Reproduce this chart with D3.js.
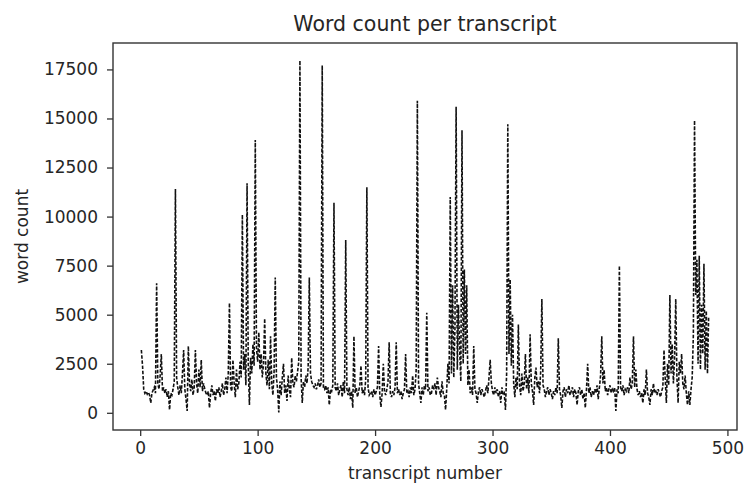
<!DOCTYPE html>
<html><head><meta charset="utf-8">
<script src="https://cdn.jsdelivr.net/npm/d3@7"></script>
<style>
body{margin:0;background:#fff;}
text{font-family:"DejaVu Sans",sans-serif;}
</style>
</head><body>
<svg id="chart" width="744" height="487"></svg>
<script>
// Word count per transcript (transcript numbers 1..N)
const wordCounts = [
3200,2400,1200,1000,1100,950,1050,900,500,1000,1150,1300,1000,6600,1500,1200,1900,3000,1100,1300,
1000,1200,800,1100,150,1000,900,1200,1600,11400,1800,1300,900,1400,1000,2000,3200,1200,700,90,
3400,1500,1100,1700,900,1300,3200,1500,1000,2200,1300,2700,1100,1500,1200,1000,900,1100,250,1000,
1400,900,1100,600,1200,1000,1300,800,1100,1500,900,1200,1800,1000,2000,5600,1300,1100,2700,1500,
800,2200,1200,1500,2600,1800,10100,2200,3000,1400,11700,2500,400,2800,2000,3500,2400,13900,3300,2600,
4100,2200,3000,1800,2500,4800,2000,1400,2700,1200,3900,1500,900,2100,6900,1800,1200,20,1600,900,
1800,2500,1000,1400,600,1900,1200,800,2800,1500,1300,1900,1600,2100,2600,17950,1800,500,1600,1300,
1900,1500,2300,6900,2000,1600,1400,1300,1500,1200,1400,1700,1300,1500,17700,1300,1200,1400,1000,1300,
400,1200,1100,1400,10700,1300,1100,1500,900,1200,1400,800,1600,1000,8800,1200,900,1300,700,1100,
250,3900,1000,1300,800,1100,1400,2400,1000,1200,900,1700,11500,1300,900,1000,1100,800,1200,900,
1100,1300,3400,900,300,1000,2500,1100,900,1200,1600,3600,1000,800,1100,900,1300,3600,1000,1200,
900,1100,700,1000,1200,3000,1000,1100,800,1300,1000,1900,900,1200,2200,15900,1500,1000,500,1300,
900,1400,1200,5100,1100,1300,900,1000,1400,1200,1500,900,1800,1300,1100,800,1600,1000,900,150,
1200,2500,1500,11000,2000,6500,1800,4300,15600,2200,5500,3200,1600,14400,2500,7300,3000,6500,1400,2200,
1000,1300,900,3400,1200,1000,500,1100,1300,900,1200,1000,800,1100,1400,1000,1800,2700,1500,1100,
900,1300,1000,1200,800,1100,500,1300,900,1000,150,2000,14700,3000,6800,2400,5000,1500,800,1800,
1200,4500,1400,900,2000,1100,1500,3000,1200,1800,1000,4000,1500,1100,400,1800,2300,1300,1600,1000,
2100,5800,1400,1200,800,1100,1300,900,1200,1000,700,1100,900,1300,1000,3800,1200,900,250,1100,
1300,800,1200,1000,1400,900,1100,1300,800,1200,1000,400,1100,1300,900,1200,700,1000,250,1200,
2500,1000,1300,800,1100,900,1200,1000,1400,700,1300,1900,3900,1500,2200,1100,1300,900,1200,1400,
1000,1200,1100,1300,100,1200,1000,7500,1300,1100,1400,900,1200,1100,1300,1000,1800,1200,1500,3900,
1300,2200,1200,900,1100,800,1000,500,1200,900,2200,1000,800,400,1200,900,1500,1000,1100,900,
1200,1000,800,1100,1300,3200,1800,500,2500,1400,6000,2000,3500,1500,2800,5800,1800,500,2600,2000,
3000,1500,1200,1900,1000,400,1100,400,1200,1800,4000,14900,6000,7800,2500,8000,2200,5500,3000,7600,
2200,5200,2000,4900
];
const xTickValues = [0, 100, 200, 300, 400, 500];
const yTickValues = [0, 2500, 5000, 7500, 10000, 12500, 15000, 17500];
const chartTitle = "Word count per transcript";
const xAxisLabel = "transcript number";
const yAxisLabel = "word count";

const W = 744, H = 487;
const margin = {left: 113, right: 7, top: 43, bottom: 57};
const iw = W - margin.left - margin.right;
const ih = H - margin.top - margin.bottom;

const points = wordCounts.map((v, i) => ({x: i + 1, y: v}));

function padded(ext) {
  const r = ext[1] - ext[0];
  return [ext[0] - r * 0.05, ext[1] + r * 0.05];
}

const x = d3.scaleLinear().domain(padded(d3.extent(points, d => d.x))).range([0, iw]);
const y = d3.scaleLinear().domain(padded(d3.extent(points, d => d.y))).range([ih, 0]);

const svg = d3.select("#chart");
const g = svg.append("g").attr("transform", `translate(${margin.left},${margin.top})`);

g.append("defs").append("clipPath").attr("id", "clip")
  .append("rect").attr("width", iw).attr("height", ih);

const line = d3.line().x(d => x(d.x)).y(d => y(d.y));
g.append("path")
  .datum(points)
  .attr("clip-path", "url(#clip)")
  .attr("fill", "none")
  .attr("stroke", "#111")
  .attr("stroke-width", 1.6)
  .attr("stroke-dasharray", "3.5,1.7")
  .attr("d", line);

const xAxis = g.append("g").attr("transform", `translate(0,${ih})`)
  .call(d3.axisBottom(x).tickValues(xTickValues).tickFormat(d3.format("d")).tickSize(6).tickPadding(6).tickSizeOuter(0));
const yAxis = g.append("g")
  .call(d3.axisLeft(y).tickValues(yTickValues).tickFormat(d3.format("d")).tickSize(6).tickPadding(9).tickSizeOuter(0));

[xAxis, yAxis].forEach(a => {
  a.select(".domain").remove();
  a.selectAll(".tick line").attr("stroke", "#333").attr("stroke-width", 1.3);
  a.selectAll(".tick text").attr("fill", "#262626").style("font-size", "17px").style("font-family", "DejaVu Sans");
});

g.append("rect").attr("width", iw).attr("height", ih)
  .attr("fill", "none").attr("stroke", "#333").attr("stroke-width", 1.4);

svg.append("text").attr("x", margin.left + iw / 2).attr("y", 31)
  .attr("text-anchor", "middle").attr("fill", "#262626")
  .style("font-size", "20.5px").text(chartTitle);

svg.append("text").attr("x", margin.left + iw / 2).attr("y", 479)
  .attr("text-anchor", "middle").attr("fill", "#262626")
  .style("font-size", "17px").text(xAxisLabel);

svg.append("text").attr("transform", `translate(28,${margin.top + ih / 2}) rotate(-90)`)
  .attr("text-anchor", "middle").attr("fill", "#262626")
  .style("font-size", "17px").text(yAxisLabel);
</script>
</body></html>
